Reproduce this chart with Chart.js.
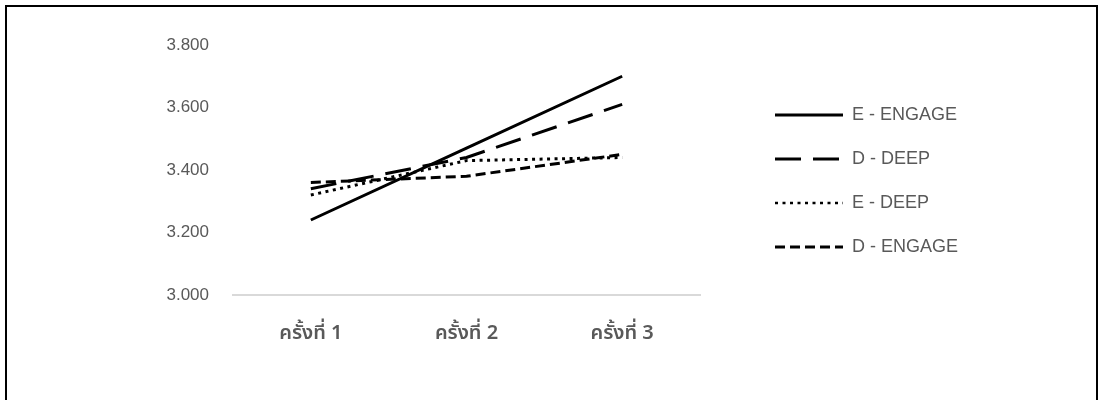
<!DOCTYPE html>
<html>
<head>
<meta charset="utf-8">
<script src="https://cdn.jsdelivr.net/npm/chart.js@4"></script>
<style>
  html, body { margin: 0; padding: 0; background: #fff; }
  #wrap { position: relative; width: 1100px; height: 400px; overflow: hidden; }
  #frame {
    position: absolute; left: 5px; top: 5px; width: 1093px; height: 420px;
    border: 2px solid #000; box-sizing: border-box;
  }
  canvas { position: absolute; left: 0; top: 0; }
</style>
</head>
<body>
<div id="wrap">
  <div id="frame"></div>
  <canvas id="chart" width="1100" height="400"></canvas>
</div>
<script>
const categories = ["ครั้งที่ 1", "ครั้งที่ 2", "ครั้งที่ 3"];
const seriesNames = ["E - ENGAGE", "D - DEEP", "E - DEEP", "D - ENGAGE"];
const eEngage = [3.24, 3.47, 3.70];
const dDeep = [3.34, 3.44, 3.61];
const eDeep = [3.32, 3.43, 3.44];
const dEngage = [3.36, 3.38, 3.45];
const yTicks = [3.0, 3.2, 3.4, 3.6, 3.8];

const grey = "#595959";
const swatchW = 68;

// small line sample used as the legend "point style" (the legend ignores dashes otherwise)
function swatch(dash, width) {
  const c = document.createElement("canvas");
  c.width = swatchW;
  c.height = 6;
  const ctx = c.getContext("2d");
  ctx.strokeStyle = "#000";
  ctx.lineWidth = width;
  ctx.setLineDash(dash);
  ctx.beginPath();
  ctx.moveTo(0, 3);
  ctx.lineTo(swatchW, 3);
  ctx.stroke();
  return c;
}

// put the legend where the original has it (right of the plot, with a gap)
const placeLegend = {
  id: "placeLegend",
  afterInit(chart) {
    const lg = chart.legend;
    const fit = lg.fit.bind(lg);
    lg.fit = function () {
      fit();
      this.width = 400;
    };
  },
  afterLayout(chart) {
    const lg = chart.legend;
    const pad = lg.options.labels.padding;
    lg.left = 775 - pad;
    lg.top = 115 - 9 - pad;
  }
};

function line(label, data, dash, legendWidth) {
  return {
    label: label,
    data: data,
    borderColor: "#000",
    backgroundColor: "#000",
    borderWidth: 3,
    borderDash: dash,
    borderCapStyle: "butt",
    pointRadius: 0,
    pointStyle: swatch(dash, legendWidth),
    tension: 0,
    fill: false
  };
}

new Chart(document.getElementById("chart"), {
  type: "line",
  data: {
    labels: categories,
    datasets: [
      line(seriesNames[0], eEngage, [], 3),
      line(seriesNames[1], dDeep, [26, 12], 3),
      line(seriesNames[2], eDeep, [3, 4.5], 2.5),
      line(seriesNames[3], dEngage, [10, 5], 3)
    ]
  },
  options: {
    responsive: false,
    animation: false,
    layout: { padding: { top: 45, left: 0, right: 0, bottom: 0 } },
    plugins: {
      title: { display: false },
      tooltip: { enabled: false },
      legend: {
        position: "right",
        align: "start",
        labels: {
          usePointStyle: true,
          pointStyleWidth: swatchW,
          padding: 26,
          color: grey,
          font: { family: "Liberation Sans, Arial, sans-serif", size: 18 }
        }
      }
    },
    scales: {
      x: {
        offset: true,
        grid: { display: false },
        border: { display: true, color: "#d9d9d9", width: 2 },
        ticks: {
          color: grey,
          padding: 20,
          font: { family: "Noto Sans Thai, Noto Sans, DejaVu Sans, sans-serif", size: 20, weight: 600 }
        },
        afterFit(scale) { scale.height = 105; }
      },
      y: {
        min: yTicks[0],
        max: yTicks[yTicks.length - 1],
        grid: { display: false },
        border: { display: false },
        afterBuildTicks(scale) {
          scale.ticks = yTicks.map(v => ({ value: v }));
        },
        ticks: {
          color: grey,
          padding: 16,
          font: { family: "Liberation Sans, Arial, sans-serif", size: 17 },
          callback: v => Number(v).toFixed(3)
        },
        afterFit(scale) { scale.width = 233; }
      }
    }
  },
  plugins: [placeLegend]
});
</script>
</body>
</html>
